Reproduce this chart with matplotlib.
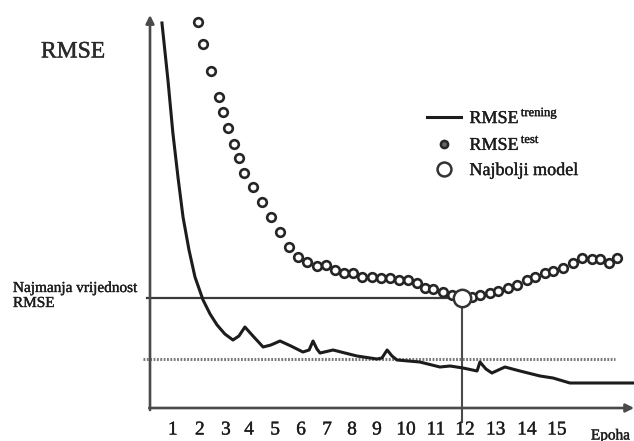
import matplotlib.pyplot as plt
import matplotlib.patheffects as pe
from matplotlib.lines import Line2D
import numpy as np

plt.rcParams["font.family"] = ["Liberation Serif", "DejaVu Serif"]
plt.rcParams["mathtext.fontset"] = "custom"
plt.rcParams["mathtext.rm"] = "Liberation Serif"

# training error curve (epoch position, RMSE in arbitrary units)
train_x = [0.46, 0.69, 0.88, 1.08, 1.27, 1.50, 1.73, 2.04, 2.31, 2.58, 2.88,
           3.19, 3.42, 3.65, 3.96, 4.35, 4.65, 5.00, 5.42, 5.88, 6.12, 6.27,
           6.42, 6.54, 7.04, 7.50, 7.96, 8.73, 8.92, 9.12, 9.31, 9.50, 10.38,
           11.15, 11.54, 12.04, 12.58, 12.69, 12.92, 13.15, 13.65, 14.23,
           15.00, 15.50, 16.15, 16.54, 18.58]
train_y = [3.85, 3.28, 2.75, 2.30, 1.91, 1.58, 1.31, 1.08, 0.94, 0.83, 0.74,
           0.68, 0.72, 0.81, 0.72, 0.61, 0.63, 0.67, 0.62, 0.56, 0.58, 0.67,
           0.59, 0.55, 0.58, 0.55, 0.52, 0.49, 0.50, 0.58, 0.52, 0.48, 0.46,
           0.41, 0.42, 0.40, 0.37, 0.46, 0.39, 0.35, 0.41, 0.37,
           0.32, 0.30, 0.25, 0.25, 0.25]

# test error points
test_x = [1.85, 2.04, 2.35, 2.65, 2.81, 3.00, 3.23, 3.42, 3.62, 3.96, 4.31,
          4.65, 5.00, 5.35, 5.69, 6.04, 6.42, 6.77, 7.12, 7.46, 7.81, 8.15,
          8.54, 8.88, 9.23, 9.58, 9.92, 10.27, 10.58, 10.88, 11.27, 11.62,
          12.38, 12.69, 13.08, 13.38, 13.77, 14.12, 14.50, 14.81, 15.19,
          15.50, 15.88, 16.27, 16.62, 17.00, 17.31, 17.65, 17.96]
test_y = [3.86, 3.64, 3.37, 3.11, 2.96, 2.80, 2.64, 2.50, 2.35, 2.21, 2.06,
          1.91, 1.76, 1.61, 1.51, 1.46, 1.42, 1.43, 1.38, 1.35, 1.35, 1.31,
          1.31, 1.30, 1.30, 1.28, 1.28, 1.25, 1.20, 1.19, 1.16, 1.13,
          1.11, 1.13, 1.15, 1.17, 1.20, 1.23, 1.28, 1.31, 1.35,
          1.37, 1.40, 1.45, 1.50, 1.49, 1.49, 1.45, 1.50]

best_x = 12.0
best_y = 1.10
floor_y = 0.49

epoch_labels = [str(i) for i in range(1, 16)]
epoch_pos = [0.88, 1.92, 2.92, 3.81, 4.81, 5.81, 6.81, 7.77, 8.73, 9.85,
             11.0, 12.12, 13.3, 14.5, 15.65]

ink = "#1c1c1c"
axis_c = "#4a4a4a"
heavy = [pe.withStroke(linewidth=0.3, foreground="#333333")]

fig = plt.figure(figsize=(6.34, 4.41), dpi=100)
ax = fig.add_axes([0, 0, 1, 1])
ax.axis("off")
ax.set_xlim(-150 / 26, 484 / 26)
ax.set_ylim(-0.33, 4.08)

# axes with arrows
ax.annotate("", xy=(0, 3.93), xytext=(0, -0.02),
            arrowprops=dict(arrowstyle="-|>", color=axis_c, lw=1.9,
                            mutation_scale=12, shrinkA=0, shrinkB=0))
ax.annotate("", xy=(18.62, 0), xytext=(-0.03, 0),
            arrowprops=dict(arrowstyle="-|>", color=axis_c, lw=1.9,
                            mutation_scale=12, shrinkA=0, shrinkB=0))

# reference lines
ax.plot([-0.12, best_x], [best_y, best_y], color="#3a3a3a", lw=1.6)
ax.plot([best_x, best_x], [best_y, -0.14], color="#4a4a4a", lw=1.5)
ax.plot([-0.27, 17.88], [floor_y, floor_y], color="#7a7a7a", lw=2.2,
        ls=(0, (0.6, 0.5)))

train_line, = ax.plot(train_x, train_y, color=ink, lw=2.2)
ax.plot(test_x, test_y, ls="none", marker="o", ms=6.2,
        mfc="white", mec="#262626", mew=1.9)
best_pt, = ax.plot([best_x], [best_y], ls="none", marker="o", ms=12.5,
                   mfc="white", mec="#333333", mew=1.8, zorder=5)

test_key = Line2D([], [], ls="none", marker="o", ms=5.2, mfc="#666666",
                  mec="#262626", mew=1.8)
best_key = Line2D([], [], ls="none", marker="o", ms=10, mfc="white",
                  mec="#333333", mew=1.8)
leg = ax.legend([train_line, test_key, best_key],
                [r"RMSE$^{\,\mathrm{trening}}$", r"RMSE$^{\,\mathrm{test}}$",
                 "Najbolji model"],
                loc="upper left",
                bbox_to_anchor=(427 / 634, 1 - 107 / 441), frameon=False,
                fontsize=13, handlelength=1.9, handletextpad=0.45,
                labelspacing=0.45, borderpad=0, borderaxespad=0)
for t in leg.get_texts():
    t.set_color(ink)
    t.set_path_effects(heavy)

for lab, pos in zip(epoch_labels, epoch_pos):
    ax.text(pos, -0.22, lab, ha="center", va="center", fontsize=14,
            color=ink, path_effects=heavy)

ax.text(-2.96, 3.56, "RMSE", ha="center", va="center", fontsize=17,
        color="#2a2a2a", path_effects=heavy)
ax.text(-5.27, 1.12, "Najmanja vrijednost\nRMSE", ha="left", va="center",
        fontsize=11, color=ink, linespacing=1.2, path_effects=heavy)
ax.text(16.96, -0.315, "Epoha", ha="left", va="baseline", fontsize=11,
        color=ink, path_effects=heavy)

fig.savefig("out.png", dpi=100)
